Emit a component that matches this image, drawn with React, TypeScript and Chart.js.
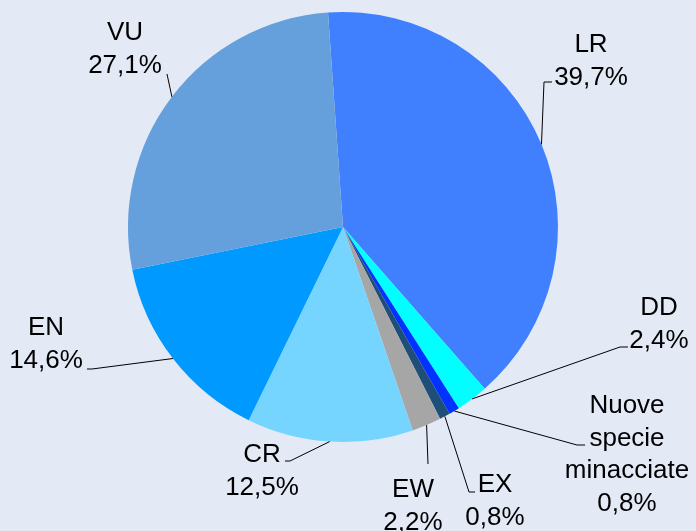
import React, { useEffect, useRef } from "react";
import { Chart, registerables } from "chart.js";

Chart.register(...registerables);

const categories = ["LR", "DD", "Nuove specie minacciate", "EX", "EW", "CR", "EN", "VU"];
const values = [39.7, 2.4, 0.8, 0.8, 2.2, 12.5, 14.6, 27.1];
const valueLabels = ["39,7%", "2,4%", "0,8%", "0,8%", "2,2%", "12,5%", "14,6%", "27,1%"];
const nameLines = [["LR"], ["DD"], ["Nuove", "specie", "minacciate"], ["EX"], ["EW"], ["CR"], ["EN"], ["VU"]];
const colors = ["#4080FF", "#00FFFF", "#0033FF", "#1F4E79", "#A6A6A6", "#75D5FF", "#0099FF", "#66A0DC"];

const BG = "#E3EAF6";

// label layout: text centre x, first baseline y, elbow point, stub end
const labelLayout = [
  { cx: 591, y: 52, elbow: [544, 82], stub: [552, 82] },
  { cx: 659, y: 315, elbow: [620, 347], stub: [628, 347] },
  { cx: 627, y: 413, elbow: [577, 445], stub: [585, 445] },
  { cx: 495, y: 492, elbow: [469, 492], stub: [475, 492] },
  { cx: 413, y: 497, elbow: [428, 464], stub: [428, 464] },
  { cx: 262, y: 462, elbow: [290, 461], stub: [285, 461] },
  { cx: 46, y: 335, elbow: [92, 369], stub: [87, 369] },
  { cx: 125, y: 40, elbow: [167, 74], stub: [167, 74] },
];

const labelPlugin = {
  id: "pieLabels",
  afterDraw(chart: any) {
    const ctx = chart.ctx;
    const meta = chart.getDatasetMeta(0);
    ctx.save();
    ctx.font = "26px 'Liberation Sans', Arial, sans-serif";
    ctx.fillStyle = "#000";
    ctx.textAlign = "center";
    ctx.textBaseline = "alphabetic";
    meta.data.forEach((arc: any, i: number) => {
      const p = arc.getProps(["x", "y", "startAngle", "endAngle", "outerRadius"], true);
      const mid = (p.startAngle + p.endAngle) / 2;
      const ax = p.x + Math.cos(mid) * p.outerRadius;
      const ay = p.y + Math.sin(mid) * p.outerRadius;
      const L = labelLayout[i];
      ctx.strokeStyle = "#000";
      ctx.lineWidth = 1;
      ctx.beginPath();
      ctx.moveTo(ax, ay);
      ctx.lineTo(L.elbow[0], L.elbow[1]);
      ctx.lineTo(L.stub[0], L.stub[1]);
      ctx.stroke();
      const lines = [...nameLines[i], valueLabels[i]];
      lines.forEach((t, k) => {
        ctx.fillText(t, L.cx, L.y + k * 32.5);
      });
    });
    ctx.restore();
  },
};

export default function App() {
  const ref = useRef<HTMLCanvasElement>(null);
  useEffect(() => {
    if (!ref.current) return;
    const chart = new Chart(ref.current, {
      type: "pie",
      data: {
        labels: categories,
        datasets: [
          {
            data: values,
            backgroundColor: colors,
            borderWidth: 0,
          },
        ],
      },
      options: {
        responsive: false,
        animation: false,
        rotation: -4,
        layout: { padding: { left: 128, right: 138, top: 12, bottom: 89 } },
        plugins: {
          legend: { display: false },
          tooltip: { enabled: false },
        },
      },
      plugins: [labelPlugin],
    });
    return () => chart.destroy();
  }, []);
  return (
    <div style={{ position: "fixed", left: 0, top: 0, width: 696, height: 531, background: BG }}>
      <canvas ref={ref} width={696} height={531} style={{ display: "block" }} />
    </div>
  );
}
